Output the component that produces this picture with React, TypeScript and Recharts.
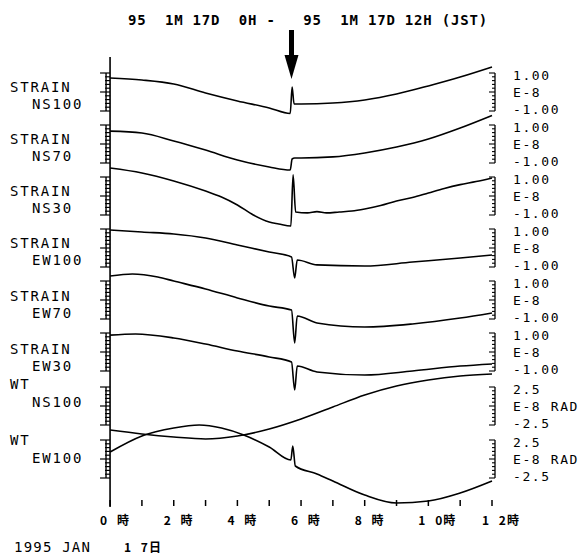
import { LineChart, Line, XAxis, YAxis, ReferenceLine } from "recharts";

// hours of the record (0H - 12H JST, 17 Jan 1995)
const HOUR_TICKS = [0, 1, 2, 3, 4, 5, 6, 7, 8, 9, 10, 11, 12];
const HOUR_LABELS: Record<number, string> = {
  0: "0 時",
  2: "2 時",
  4: "4 時",
  6: "6 時",
  8: "8 時",
  10: "1 0時",
  12: "1 2時",
};
const EVENT_HOUR = 5.7;

// strain, E-8  [hour, value]
const ns100: [number, number][] = [
  [0, 0.74], [1, 0.63], [2, 0.42], [3, -0.05], [4, -0.47], [5, -0.84], [5.66, -1.13],
  [5.72, 0.26], [5.78, -0.63], [6, -0.63], [7, -0.58], [8, -0.42], [9, -0.11],
  [10, 0.32], [11, 0.79], [12, 1.32],
];
const ns70: [number, number][] = [
  [0, 0.68], [1, 0.58], [2, 0.16], [3, -0.32], [4, -0.84], [5, -1.21], [5.66, -1.37],
  [5.72, -0.79], [5.8, -0.74], [6, -0.74], [7, -0.68], [8, -0.47], [9, -0.16],
  [10, 0.26], [11, 0.84], [12, 1.5],
];
const ns30: [number, number][] = [
  [0, 1.47], [1, 1.21], [2, 0.79], [3, 0.26], [3.5, -0.05], [4, -0.47], [4.5, -1.0],
  [5, -1.37], [5.3, -1.47], [5.68, -1.58], [5.75, 1.11], [5.83, -0.84], [6.2, -0.89],
  [6.5, -0.82], [6.8, -0.89], [7.2, -0.84], [7.6, -0.79], [8, -0.68], [8.5, -0.5],
  [9, -0.26], [9.5, -0.08], [10, 0.16], [10.5, 0.4], [11, 0.6], [11.5, 0.76], [12, 0.95],
];
const ew100: [number, number][] = [
  [0, 0.95], [1, 0.84], [2, 0.74], [3, 0.53], [4, 0.16], [5, -0.21], [5.7, -0.47],
  [5.8, -1.58], [5.88, -0.63], [6.5, -0.89], [8, -0.95], [9.5, -0.74], [11, -0.53], [12, -0.37],
];
const ew70: [number, number][] = [
  [0, 1.26], [0.7, 1.37], [1.5, 1.21], [2, 1.0], [3, 0.58], [4, 0.11], [5, -0.32],
  [5.7, -0.53], [5.8, -2.26], [5.88, -0.84], [6.5, -1.21], [8, -1.42], [9.5, -1.26],
  [11, -0.95], [12, -0.68],
];
const ew30: [number, number][] = [
  [0, 0.89], [0.8, 0.95], [2, 0.74], [3, 0.42], [4, 0.05], [5, -0.26], [5.7, -0.53],
  [5.8, -2.0], [5.88, -0.74], [6.5, -1.05], [8, -1.21], [9.5, -1.0], [11, -0.74], [12, -0.63],
];
// tilt, E-8 RAD
const wtNs100: [number, number][] = [
  [0, -3.16], [1, -3.68], [2, -4.08], [3, -4.34], [4, -3.95], [5, -3.03], [6, -1.71],
  [7, -0.13], [8, 1.45], [9, 2.63], [10, 3.42], [11, 3.95], [12, 4.21],
];
const wtEw100: [number, number][] = [
  [0, 0.92], [1, 3.03], [2, 4.08], [2.8, 4.47], [3.5, 4.08], [4.2, 3.16], [5, 1.58],
  [5.68, -0.13], [5.74, 1.71], [5.82, -0.92], [6.5, -1.97], [7, -2.89], [8, -4.74],
  [9, -5.79], [10, -5.53], [11, -4.47], [12, -2.89],
];

const STRAIN_RULER = [-1, -0.8, -0.6, -0.4, -0.2, 0, 0.2, 0.4, 0.6, 0.8, 1];
const TILT_RULER = [-2.5, -2, -1.5, -1, -0.5, 0, 0.5, 1, 1.5, 2, 2.5];
const STRAIN_SCALE: Record<string, string> = { "1": "1.00", "0": "E-8", "-1": "-1.00" };
const TILT_SCALE: Record<string, string> = { "2.5": "2.5", "0": "E-8 RAD", "-2.5": "-2.5" };

// layout
const W = 580;
const H = 550;
const MARGIN = { top: 49, right: 96, bottom: 11, left: 102 };
const X_AXIS_H = 40;
const AXIS_W = 0.01; // axes overlap on the plot edge, CartesianAxis skips width 0
const PLOT_TOP = MARGIN.top;
const PLOT_BOTTOM = H - MARGIN.bottom - X_AXIS_H;
const PLOT_RIGHT = W - MARGIN.right;
const RULER_HALF = 19;
const MONO = '"DejaVu Sans Mono", monospace';
const CJK = '"Noto Sans CJK JP", sans-serif';

interface Channel {
  id: string;
  kind: string;
  name: string;
  center: number;
  full: number;
  labelDy: [number, number];
  ruler: number[];
  scale: Record<string, string>;
  data: [number, number][];
}

const CHANNELS: Channel[] = [
  { id: "ns100", kind: "STRAIN", name: "NS100", center: 84, full: 1, labelDy: [0, 17], ruler: STRAIN_RULER, scale: STRAIN_SCALE, data: ns100 },
  { id: "ns70", kind: "STRAIN", name: "NS70", center: 136, full: 1, labelDy: [0, 17], ruler: STRAIN_RULER, scale: STRAIN_SCALE, data: ns70 },
  { id: "ns30", kind: "STRAIN", name: "NS30", center: 188, full: 1, labelDy: [0, 17], ruler: STRAIN_RULER, scale: STRAIN_SCALE, data: ns30 },
  { id: "ew100", kind: "STRAIN", name: "EW100", center: 240, full: 1, labelDy: [0, 17], ruler: STRAIN_RULER, scale: STRAIN_SCALE, data: ew100 },
  { id: "ew70", kind: "STRAIN", name: "EW70", center: 292, full: 1, labelDy: [1, 18], ruler: STRAIN_RULER, scale: STRAIN_SCALE, data: ew70 },
  { id: "ew30", kind: "STRAIN", name: "EW30", center: 344, full: 1, labelDy: [2, 19], ruler: STRAIN_RULER, scale: STRAIN_SCALE, data: ew30 },
  { id: "wtns", kind: "WT", name: "NS100", center: 398, full: 2.5, labelDy: [-17, 1], ruler: TILT_RULER, scale: TILT_SCALE, data: wtNs100 },
  { id: "wtew", kind: "WT", name: "EW100", center: 451, full: 2.5, labelDy: [-14, 4], ruler: TILT_RULER, scale: TILT_SCALE, data: wtEw100 },
];

function domainFor(ch: Channel): [number, number] {
  const px = RULER_HALF / ch.full;
  return [-(PLOT_BOTTOM - ch.center) / px, (ch.center - PLOT_TOP) / px];
}

// one tick of a channel ruler: left ruler + channel name, right ruler + scale text
function RulerTick(props: any) {
  const { x, y, payload, ch } = props;
  const v = payload.value;
  const major = v === 0 || Math.abs(v) === ch.full;
  const label = ch.scale[String(v)];
  const rx = PLOT_RIGHT;
  // pull the end labels a little toward the centre so stacked channels don't collide
  const ly = v > 0 ? y + 2 : v < 0 ? y - 2 : y;
  return (
    <g>
      <line x1={x - (major ? 10 : 5)} x2={x} y1={y} y2={y} stroke="#000" strokeWidth={1.2} />
      <line x1={rx + (major ? -3 : 0)} x2={rx + 3} y1={y} y2={y} stroke="#000" strokeWidth={1.1} />
      {label && (
        <text x={rx + 21} y={ly + 4.5} fontFamily={MONO} fontSize={13} letterSpacing={1.6} fill="#000" textAnchor="start" style={{ whiteSpace: "pre" }}>
          {label}
        </text>
      )}
      {v === 0 && (
        <g>
          <line x1={x - 4} x2={x - 4} y1={y - RULER_HALF} y2={y + RULER_HALF} stroke="#000" strokeWidth={1.4} />
          <line x1={rx + 3} x2={rx + 3} y1={y - RULER_HALF} y2={y + RULER_HALF} stroke="#000" strokeWidth={1.3} />
          <text x={2} y={y + ch.labelDy[0]} fontFamily={MONO} fontSize={14} letterSpacing={1.8} fill="#000" textAnchor="start">
            {ch.kind}
          </text>
          <text x={24} y={y + ch.labelDy[1]} fontFamily={MONO} fontSize={14} letterSpacing={1.8} fill="#000" textAnchor="start">
            {ch.name}
          </text>
        </g>
      )}
    </g>
  );
}

function HourTick(props: any) {
  const { x, y, payload } = props;
  const label = HOUR_LABELS[payload.value];
  return (
    <g>
      <line x1={x} x2={x} y1={y - 7} y2={y - 1} stroke="#000" strokeWidth={1.5} />
      {label && (
        <text x={x - 10} y={y + 18} fontFamily={CJK} fontWeight="bold" fontSize={12} letterSpacing={1} wordSpacing={5} fill="#000" style={{ whiteSpace: "pre" }}>
          {label}
        </text>
      )}
    </g>
  );
}

function EventArrow(props: any) {
  const { x1, y1, y2 } = props;
  const top = Math.min(y1, y2);
  return (
    <g>
      <rect x={x1 - 2.5} y={top - 27} width={5} height={28} fill="#000" />
      <polygon points={`${x1 - 7},${top - 2} ${x1 + 7},${top - 2} ${x1},${top + 22}`} fill="#000" />
    </g>
  );
}

export default function App() {
  return (
    <div style={{ position: "relative", width: W, height: H }}>
      <LineChart width={W} height={H} margin={MARGIN}>
        <XAxis
          type="number"
          dataKey="h"
          domain={[0, 12]}
          ticks={HOUR_TICKS}
          interval={0}
          height={X_AXIS_H}
          axisLine={false}
          tickLine={false}
          tickSize={0}
          tickMargin={0}
          tick={(p: any) => <HourTick {...p} />}
        />
        <YAxis
          yAxisId="frame"
          orientation="left"
          type="number"
          width={AXIS_W}
          domain={[0, 1]}
          ticks={[0, 1]}
          tick={false}
          tickLine={false}
          axisLine={{ stroke: "#000", strokeWidth: 1.6 }}
        />
        {CHANNELS.map((ch) => (
          <YAxis
            key={ch.id}
            yAxisId={ch.id}
            orientation="left"
            type="number"
            width={AXIS_W}
            domain={domainFor(ch)}
            ticks={ch.ruler}
            interval={0}
            axisLine={false}
            tickLine={false}
            tickSize={0}
            tickMargin={0}
            tick={(p: any) => <RulerTick {...p} ch={ch} />}
          />
        ))}
        <ReferenceLine
          yAxisId="ns100"
          x={EVENT_HOUR}
          stroke="#000"
          ifOverflow="visible"
          shape={(p: any) => <EventArrow {...p} />}
        />
        {CHANNELS.map((ch) => (
          <Line
            key={ch.id}
            yAxisId={ch.id}
            data={ch.data.map(([h, v]) => ({ h, v }))}
            dataKey="v"
            type="monotone"
            stroke="#000"
            strokeWidth={1.6}
            dot={false}
            isAnimationActive={false}
          />
        ))}
      </LineChart>
      <svg width={W} height={H} style={{ position: "absolute", left: 0, top: 0, pointerEvents: "none" }}>
        <text x={120} y={17} fontFamily={MONO} fontWeight="bold" fontSize={14} letterSpacing={0.8} fill="#000" style={{ whiteSpace: "pre" }}>
          {"95  1M 17D  0H -   95  1M 17D 12H (JST)"}
        </text>
        <text x={6} y={544} fontFamily={MONO} fontSize={14} letterSpacing={1.2} fill="#000" style={{ whiteSpace: "pre" }}>
          {"1995 JAN"}
        </text>
        <text x={116} y={544} fontFamily={CJK} fontWeight="bold" fontSize={12} letterSpacing={1} wordSpacing={5} fill="#000" style={{ whiteSpace: "pre" }}>
          {"1 7日"}
        </text>
      </svg>
    </div>
  );
}
